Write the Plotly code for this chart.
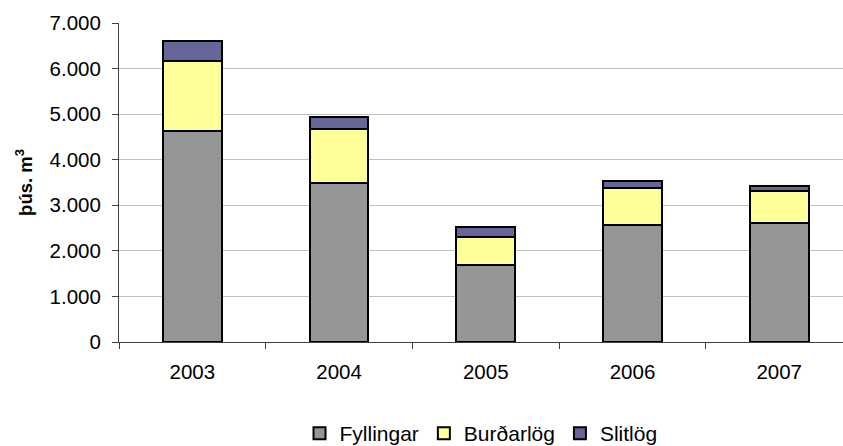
import plotly.graph_objects as go

years = ["2003", "2004", "2005", "2006", "2007"]
fyllingar = [4620, 3480, 1680, 2560, 2610]
burdarlog = [1550, 1190, 620, 830, 700]
slitlog = [440, 260, 220, 150, 110]

series = [
    ("Fyllingar", fyllingar, "#969696"),
    ("Burðarlög", burdarlog, "#FFFF99"),
    ("Slitlög", slitlog, "#666699"),
]

fig = go.Figure()
for name, vals, color in series:
    fig.add_trace(go.Bar(
        x=years, y=vals, name=name, width=0.4,
        marker=dict(color=color, line=dict(color="#000000", width=2)),
    ))

font = "Liberation Sans, Arial, sans-serif"
fig.update_layout(
    barmode="stack",
    width=843, height=446,
    margin=dict(l=119, r=0, t=23, b=104, pad=0, autoexpand=False),
    plot_bgcolor="white", paper_bgcolor="white",
    separators=",.",
    font=dict(family=font, size=20.5, color="#000000"),
    showlegend=True,
    legend=dict(orientation="h", x=0.5, xanchor="center", y=-0.287, yanchor="middle",
                font=dict(size=21), itemwidth=30, traceorder="normal"),
    xaxis=dict(
        range=[-0.5, 4.435], showline=True, linecolor="#404040", linewidth=1,
        ticks="outside", tickson="boundaries", ticklen=6, tickcolor="#404040",
        showgrid=False, tickfont=dict(size=20.5), fixedrange=True,
        ticklabelstandoff=11,
    ),
    yaxis=dict(
        range=[0, 7000], dtick=1000, tickformat=",d",
        showline=True, linecolor="#404040", linewidth=1,
        ticks="outside", ticklen=6, tickcolor="#404040",
        showgrid=True, gridcolor="#C0C0C0", gridwidth=1,
        zeroline=False, tickfont=dict(size=20.5), ticklabelstandoff=7,
        title=dict(text="<b>þús. m<sup>3</sup></b>", font=dict(size=18.5), standoff=12),
    ),
)

post = (
    "document.body.style.margin='0';"
    "document.body.style.overflow='hidden';"
    "var gd=document.getElementById('{plot_id}');"
    "gd.style.width='843px';gd.style.height='446px';"
    "Plotly.relayout(gd,{width:843,height:446});"
)
fig.write_html("out.html", post_script=post, config={"displayModeBar": False})
